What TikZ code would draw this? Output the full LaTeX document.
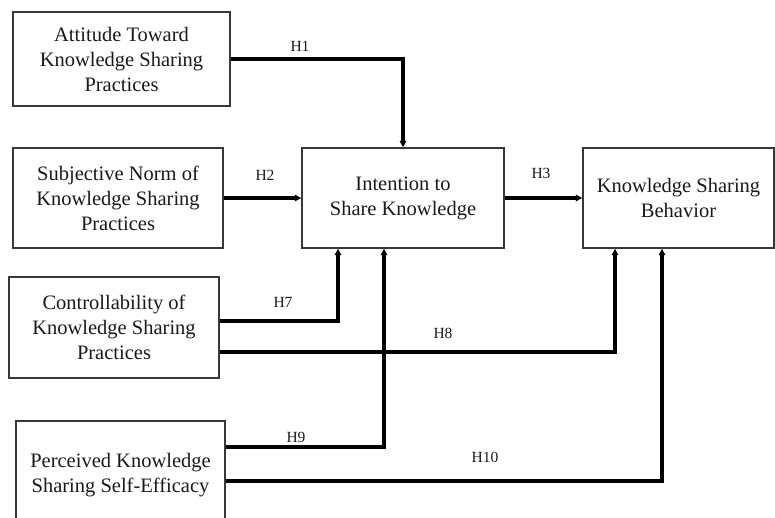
\documentclass[tikz,border=0pt]{standalone}
\usepackage{fontspec}
\setmainfont{Liberation Serif}
\usetikzlibrary{arrows.meta,calc}
\begin{document}
\begin{tikzpicture}[x=1pt,y=1pt,
  construct/.style={draw=black!78, line width=1.4pt, align=center, inner sep=0pt,
    font=\fontsize{20.5}{25}\selectfont, text=black!90},
  path/.style={line width=3.1pt, -{Triangle[length=6.5pt,width=6.5pt]}, line join=miter},
  hyp/.style={font=\fontsize{15.5}{17}\selectfont, text=black!90}]
\useasboundingbox (0,0) rectangle (775,517);

% constructs
\node[construct, minimum width=217pt, minimum height=94pt] (A) at (121.5,458) {Attitude Toward\\Knowledge Sharing\\Practices};
\node[construct, minimum width=210pt, minimum height=100pt] (B) at (118,319) {Subjective Norm of\\Knowledge Sharing\\Practices};
\node[construct, minimum width=202pt, minimum height=100pt] (I) at (403,319) {Intention to\\Share Knowledge};
\node[construct, minimum width=191pt, minimum height=100pt] (K) at (678.5,319) {Knowledge Sharing\\Behavior};
\node[construct, minimum width=210pt, minimum height=101pt] (C) at (114,189.5) {Controllability of\\Knowledge Sharing\\Practices};
\node[construct, minimum width=209pt, minimum height=109pt] (P) at (120.5,41.5) {Perceived Knowledge\\Sharing Self-Efficacy};

% hypothesised paths
\draw[path] (A.east) -| (I.north);
\draw[path] (B.east) -- (I.west);
\draw[path] (I.east) -- (K.west);
\draw[path] ($(C.east)+(0,6.5)$) -| ($(I.south)+(-65,0)$);
\draw[path] ($(C.east)+(0,-24.5)$) -| ($(K.south)+(-63.5,0)$);
\draw[path] ($(P.east)+(0,28.5)$) -| ($(I.south)+(-19,0)$);
\draw[path] ($(P.east)+(0,-5.5)$) -| ($(K.south)+(-16.5,0)$);

% labels
\node[hyp] (h1) at (300,471) {H1};
\node[hyp] (h2) at (265,342) {H2};
\node[hyp] (h3) at (541,344) {H3};
\node[hyp] (h7) at (283,215) {H7};
\node[hyp] (h8) at (443,184) {H8};
\node[hyp] (h9) at (296,80) {H9};
\node[hyp] (h10) at (485,60) {H10};
\end{tikzpicture}
\end{document}
